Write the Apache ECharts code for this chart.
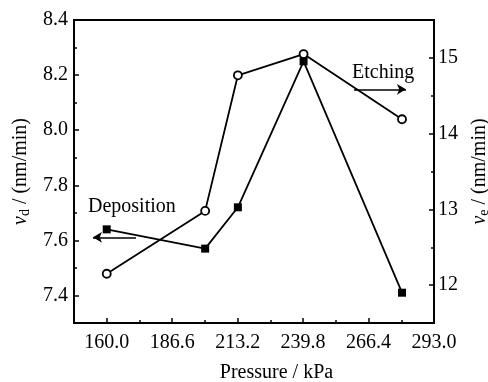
<!DOCTYPE html>
<html>
<head>
<meta charset="utf-8">
<script src="https://cdn.jsdelivr.net/npm/echarts@6/dist/echarts.min.js"></script>
<style>
  html, body { margin: 0; padding: 0; background: #fff; }
  #chart { width: 488px; height: 382px; }
</style>
</head>
<body>
<div id="chart"></div>
<script>
// Pressure (kPa) at each measurement
const pressure = [160.0, 200.0, 213.3, 240.0, 280.0];
// Deposition rate v_d (nm/min), left axis
const depositionRate = [7.64, 7.57, 7.72, 8.25, 7.41];
// Etching rate v_e (nm/min), right axis
const etchingRate = [12.15, 12.98, 14.77, 15.05, 14.19];

// Tick positions
const xMajorTicks = [160.0, 186.6, 213.2, 239.8, 266.4, 293.0];
const xMinorTicks = [173.3, 199.9, 226.5, 253.1, 279.7];
const dMajorTicks = [7.4, 7.6, 7.8, 8.0, 8.2, 8.4];
const dMinorTicks = [7.5, 7.7, 7.9, 8.1, 8.3];
const eMajorTicks = [12, 13, 14, 15];
const eMinorTicks = [12.5, 13.5, 14.5];

// Arrows telling which axis each curve belongs to: [x, y] start and end
const depositionArrow = [[171.9, 7.611], [154.4, 7.611]];
const etchingArrow = [[260.5, 14.585], [281.6, 14.585]];

const FONT = '"Liberation Serif", "Times New Roman", serif';
const BLACK = '#000';

const chart = echarts.init(document.getElementById('chart'), null, { renderer: 'canvas' });

function majorAxisCommon() {
  return {
    axisLine: { show: true, onZero: false, lineStyle: { color: BLACK, width: 2 } },
    splitLine: { show: false },
    axisLabel: { color: BLACK, fontFamily: FONT, fontSize: 20 }
  };
}

function minorAxis(base, ticks, len) {
  return Object.assign({}, base, {
    axisLine: { show: false },
    splitLine: { show: false },
    axisLabel: { show: false },
    axisTick: { show: true, inside: true, length: len, customValues: ticks,
                lineStyle: { color: BLACK, width: 1.5 } }
  });
}

const xBase = { type: 'value', min: 146.7, max: 293.0, position: 'bottom', gridIndex: 0 };
const dBase = { type: 'value', min: 7.3, max: 8.4, position: 'left', gridIndex: 0 };
const eBase = { type: 'value', min: 11.5, max: 15.5, position: 'right', gridIndex: 0 };

const titleStyle = {
  color: BLACK, fontFamily: FONT, fontSize: 20,
  rich: {
    v: { fontFamily: FONT, fontSize: 20, fontStyle: 'italic', color: BLACK },
    sub: { fontFamily: FONT, fontSize: 14, color: BLACK, verticalAlign: 'bottom', padding: [8, 0, 0, 0] }
  }
};

const option = {
  animation: false,
  backgroundColor: '#fff',
  grid: {
    left: 74, right: 54, top: 20, bottom: 59,
    show: true, borderColor: BLACK, borderWidth: 2,
    containLabel: false, outerBoundsMode: 'none'
  },
  xAxis: [
    Object.assign({}, xBase, majorAxisCommon(), {
      axisTick: { show: true, inside: true, length: 5, customValues: xMajorTicks,
                  lineStyle: { color: BLACK, width: 1.5 } },
      axisLabel: { color: BLACK, fontFamily: FONT, fontSize: 20, margin: 10,
                   customValues: xMajorTicks, formatter: v => v.toFixed(1) },
      name: 'Pressure / kPa',
      nameLocation: 'middle',
      nameGap: 40,
      nameTextStyle: { color: BLACK, fontFamily: FONT, fontSize: 20, padding: [0, 0, 0, 45] }
    }),
    minorAxis(xBase, xMinorTicks, 3)
  ],
  yAxis: [
    Object.assign({}, dBase, majorAxisCommon(), {
      axisTick: { show: true, inside: true, length: 5, customValues: dMajorTicks,
                  lineStyle: { color: BLACK, width: 1.5 } },
      axisLabel: { color: BLACK, fontFamily: FONT, fontSize: 20, margin: 6,
                   customValues: dMajorTicks, formatter: v => v.toFixed(1) },
      name: '{v|v}{sub|d} / (nm/min)',
      nameLocation: 'middle',
      nameRotate: 90,
      nameGap: 33,
      nameTextStyle: titleStyle
    }),
    minorAxis(dBase, dMinorTicks, 3),
    Object.assign({}, eBase, majorAxisCommon(), {
      axisTick: { show: true, inside: true, length: 5, customValues: eMajorTicks,
                  lineStyle: { color: BLACK, width: 1.5 } },
      axisLabel: { color: BLACK, fontFamily: FONT, fontSize: 20, margin: 4,
                   customValues: eMajorTicks, formatter: v => String(v) },
      name: '{v|v}{sub|e} / (nm/min)',
      nameLocation: 'middle',
      nameRotate: 90,
      nameGap: 35,
      nameTextStyle: titleStyle
    }),
    minorAxis(eBase, eMinorTicks, 3)
  ],
  series: [
    {
      name: 'Etching',
      type: 'line',
      xAxisIndex: 0,
      yAxisIndex: 2,
      data: pressure.map((p, i) => [p, etchingRate[i]]),
      symbol: 'circle',
      symbolSize: 8,
      lineStyle: { color: BLACK, width: 1.8 },
      itemStyle: { color: '#fff', borderColor: BLACK, borderWidth: 1.8 },
      z: 3,
      markLine: {
        silent: true,
        symbol: ['none', 'arrow'],
        symbolSize: [8, 9],
        label: { show: false },
        lineStyle: { color: BLACK, width: 1.5, type: 'solid' },
        data: [[{ coord: etchingArrow[0] }, { coord: etchingArrow[1] }]]
      }
    },
    {
      name: 'Deposition',
      type: 'line',
      xAxisIndex: 0,
      yAxisIndex: 0,
      data: pressure.map((p, i) => [p, depositionRate[i]]),
      symbol: 'rect',
      symbolSize: 8,
      lineStyle: { color: BLACK, width: 1.8 },
      itemStyle: { color: BLACK },
      z: 4,
      markLine: {
        silent: true,
        symbol: ['none', 'arrow'],
        symbolSize: [8, 9],
        label: { show: false },
        lineStyle: { color: BLACK, width: 1.5, type: 'solid' },
        data: [[{ coord: depositionArrow[0] }, { coord: depositionArrow[1] }]]
      }
    }
  ],
  graphic: [
    { type: 'text', left: 88, top: 197,
      style: { text: 'Deposition', font: '20px ' + FONT, fill: BLACK } },
    { type: 'text', left: 352, top: 63,
      style: { text: 'Etching', font: '20px ' + FONT, fill: BLACK } }
  ]
};

chart.setOption(option);
</script>
</body>
</html>
